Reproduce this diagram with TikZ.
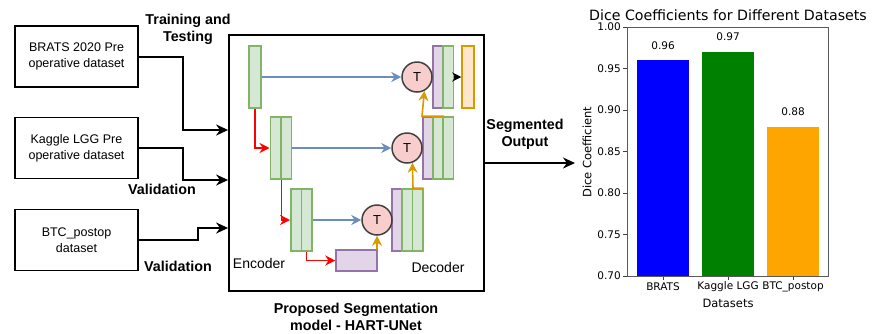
\documentclass[tikz,border=0pt]{standalone}
\usepackage{fontspec}
\setmainfont{Liberation Sans}
\newfontfamily\chartfont{DejaVu Sans}
\usetikzlibrary{arrows.meta}
\definecolor{encgreen}{HTML}{82B366}
\definecolor{encfill}{HTML}{D5E8D4}
\definecolor{decpurple}{HTML}{9673A6}
\definecolor{decfill}{HTML}{E1D5E7}
\definecolor{outorange}{HTML}{D79B00}
\definecolor{outfill}{HTML}{FFE6CC}
\definecolor{tfill}{HTML}{F8CECC}
\definecolor{skipblue}{HTML}{6C8EBF}
\definecolor{barblue}{HTML}{0000FF}
\definecolor{bargreen}{HTML}{008000}
\definecolor{barorange}{HTML}{FFA500}
\tikzset{
  dbox/.style={draw, line width=1.8pt, minimum width=123pt, minimum height=61pt,
    align=center, inner sep=0pt, font=\fontsize{12.5}{16}\selectfont},
  lbl/.style={align=center, font=\bfseries\fontsize{14.3}{17}\selectfont},
  enc/.style={draw=encgreen, fill=encfill, line width=1.5pt, minimum width=10.5pt,
    minimum height=62pt, inner sep=0pt},
  dec/.style={enc, draw=decpurple, fill=decfill},
  tnode/.style={circle, draw=black!75, fill=tfill, line width=1.5pt, minimum size=30pt,
    inner sep=0pt, font=\fontsize{13}{13}\selectfont},
  arr/.style={-{Stealth[length=12pt,width=11pt]}, line width=2pt},
  red arr/.style={-{Stealth[length=10pt,width=10pt]}, red, line width=1.6pt},
  blue arr/.style={-{Stealth[length=10pt,width=10pt]}, skipblue, line width=1.6pt},
  orange arr/.style={-{Stealth[length=10pt,width=10pt]}, outorange, line width=1.6pt}
}
\begin{document}
\begin{tikzpicture}[x=1pt, y=-1pt]
  \useasboundingbox (0,0) rectangle (874,333);
  % inputs
  \node[dbox] (brats)  at (76.5,56.5)  {BRATS 2020 Pre\\operative dataset};
  \node[dbox] (kaggle) at (76.5,148)   {Kaggle LGG Pre\\operative dataset};
  \node[dbox] (btc)    at (76.5,240)   {BTC\_postop\\dataset};
  \node[draw, line width=1.8pt, minimum width=255pt, minimum height=256pt] (model) at (356.5,163) {};
  \node[lbl] (train) at (188,29) {Training and\\Testing};
  \node[lbl] (val1)  at (162,189) {Validation};
  \node[lbl] (val2)  at (178,266) {Validation};
  \draw[arr] (brats.east) -| (183,130) -- (model.west |- 0,130);
  \draw[arr] (kaggle.east) -| (183,180) -- (model.west |- 0,180);
  \draw[arr] (btc.east) -| (198,228) -- (model.west |- 0,228);
  % encoder
  \node[enc, minimum width=12pt] (e1) at (255,77) {};
  \node[enc] (e2a) at (275.5,148) {};
  \node[enc] (e2b) at (286,148) {};
  \node[enc] (e3a) at (296,220) {};
  \node[enc] (e3b) at (306.5,220) {};
  \node[dec, minimum width=41pt, minimum height=21pt] (bott) at (356.5,260.5) {};
  % decoder
  \node[dec] (d1a) at (438,77) {};
  \node[enc] (d1b) at (448,77) {};
  \node[enc, draw=outorange, fill=outfill, minimum width=12pt] (out) at (468,77) {};
  \node[dec] (d2a) at (428,148) {};
  \node[enc] (d2b) at (438,148) {};
  \node[enc] (d2c) at (448,148) {};
  \node[dec] (d3a) at (397,220) {};
  \node[enc] (d3b) at (407,220) {};
  \node[enc] (d3c) at (417.5,220) {};
  \node[tnode] (t1) at (417,77) {T};
  \node[tnode] (t2) at (407,148) {T};
  \node[tnode] (t3) at (377,220) {T};
  \draw[blue arr] (e1.east) -- (t1.west);
  \draw[blue arr] (e2b.east) -- (t2.west);
  \draw[blue arr] (e3b.east) -- (t3.west);
  \draw[red arr] (e1.south) |- (e2a.west);
  \draw[red arr] (e2a.south east) |- (e3a.west);
  \draw[red arr] (e3b.south) |- (bott.west);
  \draw[orange arr] (t3.south |- bott.north) -- (t3.south);
  \draw[orange arr] (d3c.north east) -- (d3b.north east) -- (t2.-70);
  \draw[orange arr] (d2b.north east) -- (d2a.north west) -- (t1.-62);
  \draw[-{Stealth[length=9pt,width=9pt]}, line width=1.4pt] (d1b.east) -- (out.west);
  \node[font=\fontsize{14}{16}\selectfont] (enclbl) at (259,263) {Encoder};
  \node[font=\fontsize{14}{16}\selectfont] (declbl) at (438,267) {Decoder};
  \node[lbl] (mlbl) at (356,316.5) {Proposed Segmentation\\model - HART-UNet};
  % output
  \node[lbl] (seg) at (525,134) {Segmented\\Output};
  \coordinate (chartin) at (575,163);
  \draw[arr] (model.east) -- (chartin);
  % chart
  \begin{scope}[font=\chartfont\fontsize{10.5}{12}\selectfont]
    \node[font=\chartfont\fontsize{14.2}{15}\selectfont, inner sep=0pt] (title) at (728,15) {Dice Coefficients for Different Datasets};
    \foreach \x/\v/\c/\n in {663/0.96/barblue/BRATS, 728/0.97/bargreen/Kaggle LGG, 793/0.88/barorange/BTC\_postop} {
      \fill[\c] (\x-26,276) rectangle (\x+26,{276-(\v-0.7)*830});
      \node (val) at (\x,{276-(\v-0.7)*830-15}) {\v};
      \draw[black!75, line width=0.8pt] (\x,276) -- (\x,280);
      \node (xt) at (\x,287) {\n};
    }
    \foreach \v in {0.70,0.75,0.80,0.85,0.90,0.95,1.00} {
      \draw[black!75, line width=0.8pt] (627,{276-(\v-0.7)*830}) -- (623,{276-(\v-0.7)*830});
      \node[anchor=east, inner sep=1pt] (yt) at (622,{276-(\v-0.7)*830}) {\v};
    }
    \draw[black!65, line width=1pt] (627,27) rectangle (828,276);
    \node[rotate=90, font=\chartfont\fontsize{11.5}{13}\selectfont] (ylbl) at (587,152) {Dice Coefficient};
    \node[font=\chartfont\fontsize{11.5}{13}\selectfont] (xlbl) at (728,303) {Datasets};
  \end{scope}
\end{tikzpicture}
\end{document}
